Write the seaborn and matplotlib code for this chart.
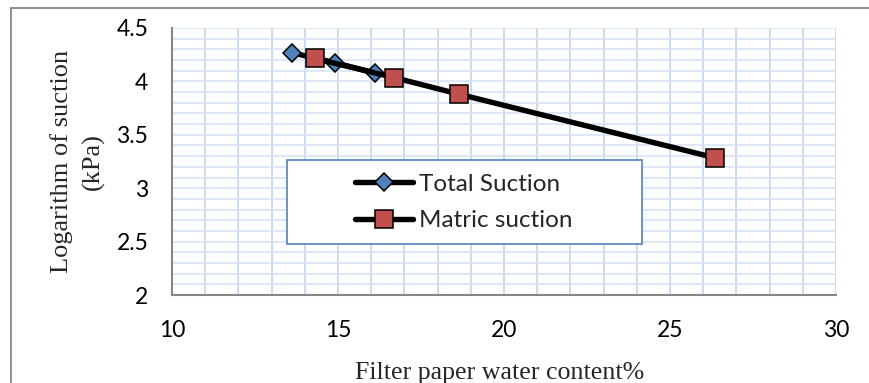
import matplotlib
matplotlib.use("Agg")
import matplotlib.pyplot as plt
import seaborn as sns
import pandas as pd
from matplotlib.patches import Rectangle
from matplotlib.lines import Line2D
from matplotlib.ticker import MultipleLocator

# Data
total_x = [13.6, 14.9, 16.1]
total_y = [4.27, 4.175, 4.08]
matric_x = [14.3, 16.7, 18.65, 26.35]
matric_y = [4.215, 4.035, 3.88, 3.285]
series_names = ["Total Suction", "Matric suction"]
x_label = "Filter paper water content%"
y_label = "Logarithm of suction\n(kPa)"

sns.set_style("white")
plt.rcParams["font.family"] = ["Lato", "DejaVu Sans"]

W, H = 870, 383
fig = plt.figure(figsize=(W / 100, H / 100), dpi=100)
ax = fig.add_axes([172 / W, 1 - 295 / H, (836 - 172) / W, (295 - 28) / H])

df_t = pd.DataFrame({"x": total_x, "y": total_y})
df_m = pd.DataFrame({"x": matric_x, "y": matric_y})

sns.lineplot(data=df_t, x="x", y="y", ax=ax, sort=False, color="black", lw=3.9,
             marker="D", ms=9.5, markerfacecolor="#4f81bd", markeredgecolor="black",
             markeredgewidth=1.1, label=series_names[0], zorder=3)
sns.lineplot(data=df_m, x="x", y="y", ax=ax, sort=False, color="black", lw=3.9,
             marker="s", ms=13, markerfacecolor="#c0504d", markeredgecolor="black",
             markeredgewidth=1.1, label=series_names[1], zorder=4)

ax.set_xlim(10, 30)
ax.set_ylim(2, 4.5)
ax.xaxis.set_major_locator(MultipleLocator(5))
ax.xaxis.set_minor_locator(MultipleLocator(1))
ax.yaxis.set_major_locator(MultipleLocator(0.5))
ax.yaxis.set_minor_locator(MultipleLocator(0.1))
ax.set_yticks([2, 2.5, 3, 3.5, 4, 4.5])
ax.set_yticklabels(["2", "2.5", "3", "3.5", "4", "4.5"])
ax.set_xticks([10, 15, 20, 25, 30])
ax.set_xticklabels(["10", "15", "20", "25", "30"])

ax.set_axisbelow(True)
ax.grid(which="both", axis="x", color="#c6d9f1", lw=1.3)
ax.grid(which="both", axis="y", color="#d3e0f3", lw=1.1)

for s in ["top", "right"]:
    ax.spines[s].set_visible(False)
for s in ["left", "bottom"]:
    ax.spines[s].set_color("#868686")
    ax.spines[s].set_linewidth(1.5)

ax.tick_params(which="major", direction="out", length=5, width=1.5, color="#868686",
               labelsize=16.5, labelcolor="black")
ax.tick_params(which="minor", length=0)
ax.tick_params(axis="x", pad=13)
ax.tick_params(axis="y", pad=12)

ax.set_xlabel(x_label, family="Liberation Serif", fontsize=18.7)
ax.xaxis.set_label_coords(0.494, -0.25)
ax.set_ylabel(y_label, family="Liberation Serif", fontsize=19, linespacing=1.5, va="center")
ax.yaxis.set_label_coords(-0.143, 0.5)

# legend box
ax.add_patch(Rectangle((287 / W, 1 - 244 / H), 355 / W, 84 / H, transform=fig.transFigure,
                       facecolor="white", edgecolor="#4f81bd", lw=1.2, clip_on=False, zorder=2.5))
leg = ax.legend(loc="center", bbox_to_anchor=(464 / W, 1 - 202.5 / H),
                bbox_transform=fig.transFigure, frameon=False, fontsize=17.5,
                handlelength=2.4, handletextpad=0.25, labelspacing=0.65, borderpad=0)
leg.set_zorder(6)

# outer chart border
fig.add_artist(Line2D([11 / W, 11 / W], [0, 1 - 8 / H], transform=fig.transFigure,
                      color="#868686", lw=1.3))
fig.add_artist(Line2D([11 / W, 1], [1 - 8 / H, 1 - 8 / H], transform=fig.transFigure,
                      color="#868686", lw=1.3))

fig.savefig("out.png", dpi=100)
